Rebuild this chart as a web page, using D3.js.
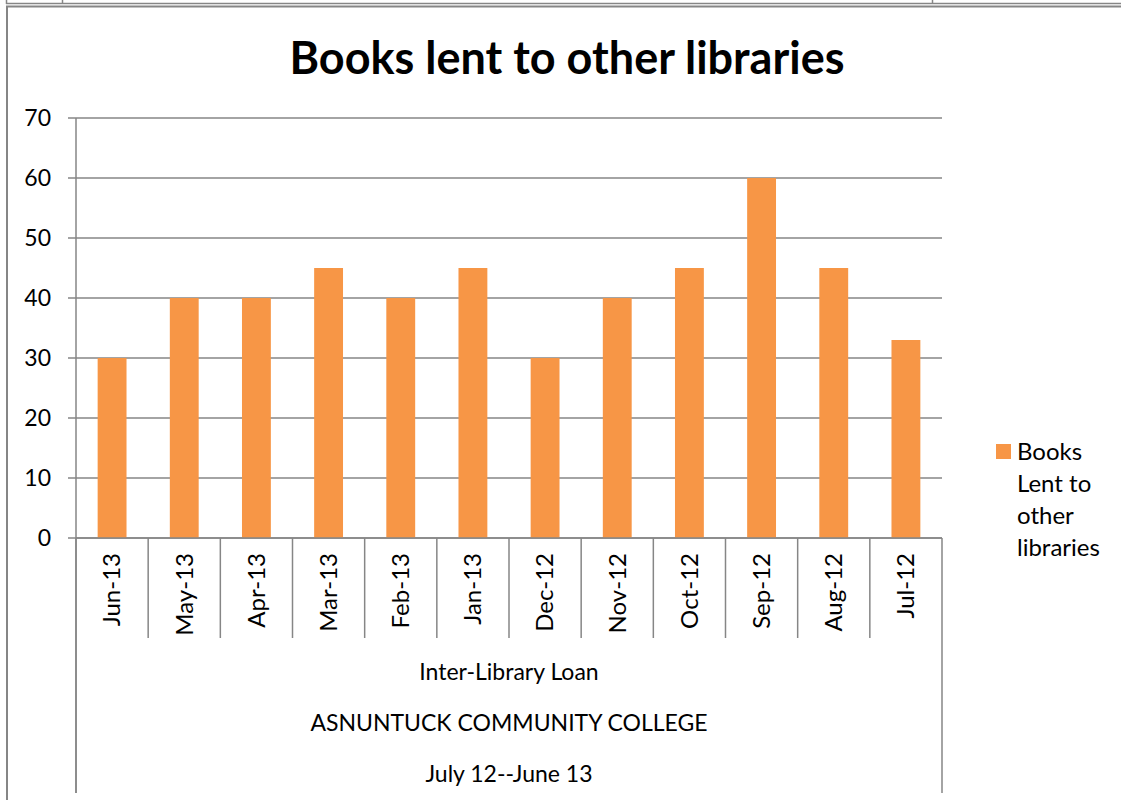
<!DOCTYPE html>
<html>
<head>
<meta charset="utf-8">
<script src="https://cdn.jsdelivr.net/npm/d3@7"></script>
<style>
  body { margin: 0; background: #fff; }
  text { font-family: Lato, "Open Sans", sans-serif; fill: #000; }
</style>
</head>
<body>
<div id="chart"></div>
<script>
// Data
const months = ["Jun-13", "May-13", "Apr-13", "Mar-13", "Feb-13", "Jan-13",
  "Dec-12", "Nov-12", "Oct-12", "Sep-12", "Aug-12", "Jul-12"];
const booksLent = [30, 40, 40, 45, 40, 45, 30, 40, 45, 60, 45, 33];
const yTicks = [0, 10, 20, 30, 40, 50, 60, 70];
const groupLabels = ["Inter-Library Loan", "ASNUNTUCK COMMUNITY COLLEGE", "July 12--June 13"];
const seriesName = ["Books", "Lent to", "other", "libraries"];

const W = 1121, H = 800;
const margin = { top: 118, left: 76, right: 179, bottom: 262 };
const width = W - margin.left - margin.right;
const height = H - margin.top - margin.bottom;
const grey = "#868686";

const svg = d3.select("#chart").append("svg")
  .attr("width", W)
  .attr("height", H);

// Frame pieces from the surrounding page
svg.append("line").attr("x1", 6).attr("x2", W).attr("y1", 3.5).attr("y2", 3.5)
  .attr("stroke", grey).attr("stroke-width", 1.5);
[6.5, 62.5, 932.5].forEach(x => {
  svg.append("line").attr("x1", x).attr("x2", x).attr("y1", 0).attr("y2", 4)
    .attr("stroke", grey).attr("stroke-width", 1.5);
});
svg.append("path")
  .attr("d", `M7,${H} V6.5 H${W}`)
  .attr("fill", "none").attr("stroke", grey).attr("stroke-width", 2);

// Title
svg.append("text")
  .attr("x", 567).attr("y", 74)
  .attr("text-anchor", "middle")
  .attr("font-size", 45).attr("font-weight", "bold")
  .text("Books lent to other libraries");

const canvas = svg.append("g")
  .attr("transform", `translate(${margin.left}, ${margin.top})`);

const xSc = d3.scaleBand()
  .domain(months)
  .range([0, width])
  .paddingInner(0.6).paddingOuter(0.3);
const ySc = d3.scaleLinear()
  .domain([0, 70])
  .range([height, 0]);
const step = xSc.step();

// Gridlines
canvas.append("g")
  .selectAll("line")
  .data(yTicks)
  .join("line")
    .attr("x1", -8).attr("x2", width)
    .attr("y1", d => ySc(d)).attr("y2", d => ySc(d))
    .attr("stroke", grey).attr("stroke-width", 1.5);

// Y axis
canvas.append("line")
  .attr("x1", 0).attr("x2", 0).attr("y1", 0).attr("y2", height + 255)
  .attr("stroke", grey).attr("stroke-width", 1.5);
canvas.append("g")
  .selectAll("text")
  .data(yTicks)
  .join("text")
    .attr("x", -25).attr("y", d => ySc(d))
    .attr("dy", "0.35em")
    .attr("text-anchor", "end")
    .attr("font-size", 23)
    .text(d => d);

// Bars
canvas.append("g")
  .selectAll("rect")
  .data(months.map((m, i) => ({ m, v: booksLent[i] })))
  .join("rect")
    .attr("x", d => xSc(d.m))
    .attr("width", xSc.bandwidth())
    .attr("y", d => ySc(d.v))
    .attr("height", d => height - ySc(d.v))
    .attr("fill", "#F79646");

// Category dividers and labels
const bounds = d3.range(months.length + 1).map(i => i * step);
canvas.append("g")
  .selectAll("line")
  .data(bounds)
  .join("line")
    .attr("x1", d => d).attr("x2", d => d)
    .attr("y1", height).attr("y2", d => (d === 0 || d === bounds[bounds.length - 1]) ? height + 255 : height + 100)
    .attr("stroke", grey).attr("stroke-width", 1.5);
canvas.append("line")
  .attr("x1", 0).attr("x2", width).attr("y1", height).attr("y2", height)
  .attr("stroke", grey).attr("stroke-width", 1.5);
canvas.append("g")
  .selectAll("text")
  .data(months)
  .join("text")
    .attr("transform", d => `translate(${xSc(d) + xSc.bandwidth() / 2}, ${height + 15}) rotate(-90)`)
    .attr("text-anchor", "end")
    .attr("dy", "0.35em")
    .attr("font-size", 24)
    .text(d => d);

// Multi-level category labels
canvas.append("g")
  .selectAll("text")
  .data(groupLabels)
  .join("text")
    .attr("x", width / 2)
    .attr("y", (d, i) => height + 142 + i * 51)
    .attr("text-anchor", "middle")
    .attr("font-size", 23)
    .text(d => d);

// Legend
const legend = svg.append("g").attr("transform", "translate(996, 444)");
legend.append("rect")
  .attr("width", 15).attr("height", 15)
  .attr("fill", "#F79646");
legend.selectAll("text")
  .data(seriesName)
  .join("text")
    .attr("x", 21)
    .attr("y", (d, i) => 16 + i * 32)
    .attr("font-size", 24)
    .text(d => d);
</script>
</body>
</html>
